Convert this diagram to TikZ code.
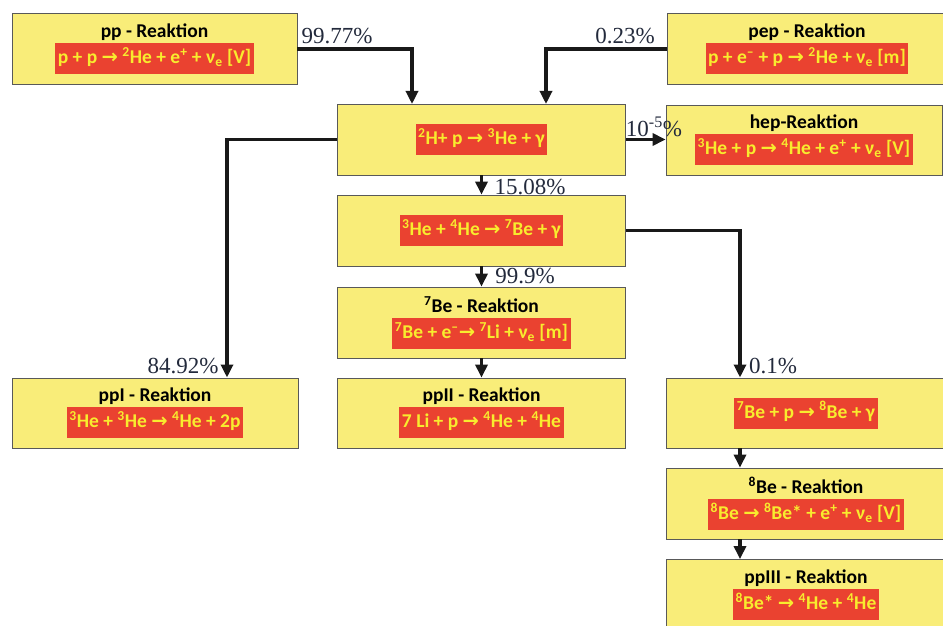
\documentclass[tikz,border=0pt]{standalone}
\usepackage{fontspec}
\setmainfont{Carlito}
\newfontfamily\zahlfont{Liberation Serif}
\newfontfamily\pfeilfont{DejaVu Sans}
\usetikzlibrary{arrows.meta}
\definecolor{kastengelb}{RGB}{249,237,121}
\definecolor{formelrot}{RGB}{234,66,48}
\definecolor{formelgelb}{RGB}{248,236,46}
\definecolor{zahlblau}{RGB}{35,42,60}
\newcommand{\titel}[1]{\textbf{#1}}
\newcommand{\formel}[1]{{\setlength{\fboxsep}{2.5pt}\colorbox{formelrot}{\strut\color{formelgelb}\bfseries #1}}}
\newcommand{\pf}{{\pfeilfont\bfseries →}}
\newcommand{\hoch}[1]{\textsuperscript{#1}}
\newcommand{\nue}{ν\textsubscript{e}}
\begin{document}
\begin{tikzpicture}[x=1pt,y=-1pt,
kasten/.style={draw=black!65,line width=0.8pt,fill=kastengelb,minimum width=288pt,minimum height=71pt,inner sep=0pt,align=center,font=\fontsize{19.5}{26}\selectfont},
fluss/.style={-{Triangle[length=13pt,width=12pt]},line width=3.2pt,black!90},
zahl/.style={font=\zahlfont\fontsize{23}{25}\selectfont,text=zahlblau,inner sep=0pt}]
\useasboundingbox (0,0) rectangle (943,626);
\node[kasten,minimum width=285pt] (pp) at (154.5,49) {\titel{pp - Reaktion}\\\formel{p + p \pf{} \hoch{2}He + e\hoch{+} + \nue{} [V]}};
\node[kasten,minimum width=280pt] (pep) at (807,49) {\titel{pep - Reaktion}\\\formel{p + e\hoch{--} + p \pf{} \hoch{2}He + \nue{} [m]}};
\node[kasten] (A) at (481.5,139.5) {\formel{\hoch{2}H+ p \pf{} \hoch{3}He + γ}};
\node[kasten,minimum width=276pt,minimum height=70pt] (hep) at (804,140) {\titel{hep-Reaktion}\\\formel{\hoch{3}He + p \pf{} \hoch{4}He + e\hoch{+} + \nue{} [V]}};
\node[kasten] (B) at (481.5,230.5) {\formel{\hoch{3}He + \hoch{4}He \pf{} \hoch{7}Be + γ}};
\node[kasten] (C) at (481.5,322.5) {\titel{\hoch{7}Be - Reaktion}\\\formel{\hoch{7}Be + e\hoch{--}\pf{} \hoch{7}Li + \nue{} [m]}};
\node[kasten,minimum height=70pt] (ppII) at (481.5,413) {\titel{ppII - Reaktion}\\\formel{7 Li + p \pf{} \hoch{4}He + \hoch{4}He}};
\node[kasten,minimum width=286pt,minimum height=70pt] (ppI) at (155,413) {\titel{ppI - Reaktion}\\\formel{\hoch{3}He + \hoch{3}He \pf{} \hoch{4}He + 2p}};
\node[kasten,minimum width=280pt,minimum height=70pt] (D) at (806,413) {\formel{\hoch{7}Be + p \pf{} \hoch{8}Be + γ}};
\node[kasten,minimum width=280pt] (E) at (806,503.5) {\titel{\hoch{8}Be - Reaktion}\\\formel{\hoch{8}Be \pf{} \hoch{8}Be* + e\hoch{+} + \nue{} [V]}};
\node[kasten,minimum width=280pt] (ppIII) at (806,595) {\titel{ppIII - Reaktion}\\\formel{\hoch{8}Be* \pf{} \hoch{4}He + \hoch{4}He}};
\coordinate (k1) at (412,104);
\coordinate (k2) at (546,104);
\coordinate (k3) at (227,377.5);
\coordinate (k4) at (740,377.5);
\draw[fluss] (pp.east) -| (k1);
\draw[fluss] (pep.west) -| (k2);
\draw[fluss] (A.west) -| (k3);
\draw[fluss] (A.east) -- (hep.west |- A.east);
\draw[fluss] (A) -- (B);
\draw[fluss] (B) -- (C);
\draw[fluss] (C) -- (ppII);
\draw[fluss] (B.east) -| (k4);
\draw[fluss] (D.south -| k4) -- (E.north -| k4);
\draw[fluss] (E.south -| k4) -- (ppIII.north -| k4);
\node[zahl] (z1) at (337,36) {99.77\%};
\node[zahl] (z2) at (625,36) {0.23\%};
\node[zahl] (z3) at (654,127) {10\hoch{-5}\%};
\node[zahl] (z4) at (530,187) {15.08\%};
\node[zahl] (z5) at (525,276) {99.9\%};
\node[zahl] (z6) at (183,366) {84.92\%};
\node[zahl] (z7) at (773,366) {0.1\%};
\end{tikzpicture}
\end{document}
